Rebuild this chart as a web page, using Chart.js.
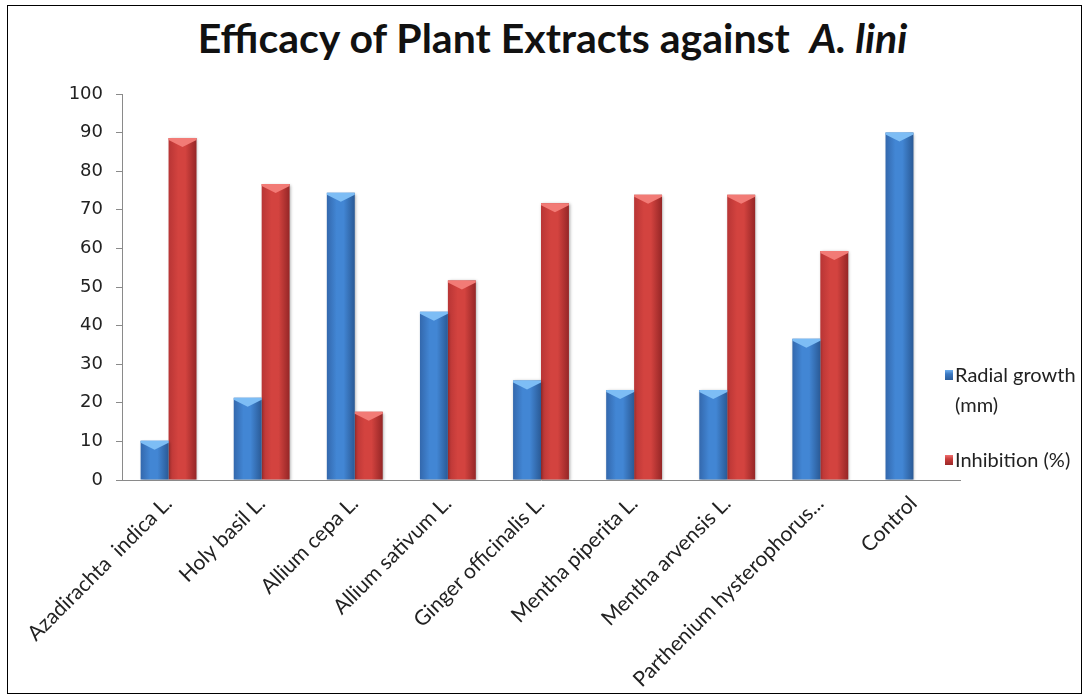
<!DOCTYPE html>
<html>
<head>
<meta charset="utf-8">
<script src="https://cdn.jsdelivr.net/npm/chart.js@4.4.1/dist/chart.umd.min.js"></script>
<style>
    html, body {
        margin: 0;
        padding: 0;
        background: #fff;
    }

    #marco {
        position: absolute;
        left: 7px;
        top: 5px;
        width: 1073px;
        height: 687px;
        border: 1px solid #000;
    }

    #titulo {
        position: absolute;
        left: 9px;
        top: 13px;
        width: 1087px;
        text-align: center;
        font: bold 41px Lato, "Open Sans", sans-serif;
        color: #111;
        white-space: pre;
    }

    #contenedor {
        position: absolute;
        left: 0;
        top: 0;
        width: 1087px;
        height: 697px;
    }

    #leyenda {
        position: absolute;
        left: 944px;
        top: 359px;
        font: 20px Lato, "Open Sans", sans-serif;
        color: #222;
        line-height: 30px;
    }

    .item {
        position: relative;
        padding-left: 11px;
    }

    .marca {
        position: absolute;
        left: 1px;
        top: 11px;
        width: 8px;
        height: 10px;
    }
</style>
</head>
<body>
<div id="marco"></div>
<div id="titulo">Efficacy of Plant Extracts against  <i>A. lini</i></div>
<div id="contenedor"><canvas id="grafico"></canvas></div>
<div id="leyenda">
    <div class="item"><span class="marca" style="background:linear-gradient(#6fb0f0,#3a78c2 40%,#2b5d9c)"></span>Radial growth<br>(mm)</div>
    <div class="item" style="margin-top:25px"><span class="marca" style="background:linear-gradient(#f07070,#c83c3a 40%,#9a2828)"></span>Inhibition (%)</div>
</div>
<script>
const categorias = [
    "Azadirachta  indica L.",
    "Holy basil L.",
    "Allium cepa L.",
    "Allium sativum L.",
    "Ginger officinalis L.",
    "Mentha piperita L.",
    "Mentha arvensis L.",
    "Parthenium hysterophorus...",
    "Control"
];

const crecimientoRadial = [10.2, 21.3, 74.4, 43.6, 25.8, 23.3, 23.3, 36.6, 90];
const inhibicion = [88.6, 76.7, 17.7, 51.7, 71.7, 73.9, 73.9, 59.3, null];

const ticksY = [0, 10, 20, 30, 40, 50, 60, 70, 80, 90, 100];

const PORCENTAJE_CATEGORIA = 0.6;

// Degradado horizontal por barra, como las columnas "cilíndricas" de Excel.
const rellenoBarra = (indiceSerie, colores) => context => {
    const chart = context.chart;
    const escalaX = chart.scales.x;

    if (!chart.chartArea || !escalaX) {
        return colores[1];
    }

    const anchoCategoria = escalaX.width / categorias.length;
    const anchoBarra = anchoCategoria * PORCENTAJE_CATEGORIA / 2;
    const centro = escalaX.getPixelForValue(context.dataIndex);
    const izquierda = centro - anchoBarra + indiceSerie * anchoBarra;

    const degradado = chart.ctx.createLinearGradient(izquierda, 0, izquierda + anchoBarra, 0);
    degradado.addColorStop(0, colores[0]);
    degradado.addColorStop(0.35, colores[1]);
    degradado.addColorStop(0.6, colores[1]);
    degradado.addColorStop(1, colores[2]);

    return degradado;
};

const coloresAzul = ["#3368ad", "#4286d4", "#2a5a96"];
const coloresRojo = ["#b83535", "#d3433f", "#952626"];
const tapas = ["#7dbdf5", "#f27b76"];

const sombraYTapas = {
    id: "sombraYTapas",

    beforeDatasetsDraw: chart => {
        const ctx = chart.ctx;

        ctx.save();
        ctx.shadowColor = "rgba(0, 0, 0, 0.35)";
        ctx.shadowBlur = 3;
        ctx.shadowOffsetX = 1;
        ctx.shadowOffsetY = 1;
    },

    afterDatasetsDraw: chart => {
        const ctx = chart.ctx;

        ctx.restore();

        chart.data.datasets.forEach((dataset, i) => {
            const meta = chart.getDatasetMeta(i);

            meta.data.forEach((barra, j) => {
                if (dataset.data[j] == null) {
                    return;
                }

                const { x, y, width } = barra.getProps(["x", "y", "width"], true);
                const mitad = width / 2;

                ctx.fillStyle = tapas[i];
                ctx.beginPath();
                ctx.moveTo(x - mitad, y);
                ctx.lineTo(x + mitad, y);
                ctx.lineTo(x + mitad, y + 2);
                ctx.lineTo(x, y + 9);
                ctx.lineTo(x - mitad, y + 2);
                ctx.closePath();
                ctx.fill();
            });
        });
    }
};

new Chart(document.getElementById("grafico"), {
    type: "bar",

    data: {
        labels: categorias,
        datasets: [
            {
                label: "Radial growth (mm)",
                data: crecimientoRadial,
                backgroundColor: rellenoBarra(0, coloresAzul),
                borderWidth: 0
            },
            {
                label: "Inhibition (%)",
                data: inhibicion,
                backgroundColor: rellenoBarra(1, coloresRojo),
                borderWidth: 0
            }
        ]
    },

    options: {
        responsive: true,
        maintainAspectRatio: false,
        animation: false,
        categoryPercentage: PORCENTAJE_CATEGORIA,
        barPercentage: 1,

        layout: {
            padding: {
                left: 20,
                right: 127,
                top: 94,
                bottom: 7
            }
        },

        plugins: {
            legend: {
                display: false
            },

            title: {
                display: false
            },

            tooltip: {
                enabled: false
            }
        },

        scales: {
            y: {
                min: 0,
                max: 100,
                afterBuildTicks: escala => {
                    escala.ticks = ticksY.map(valor => ({ value: valor }));
                },
                afterFit: escala => {
                    escala.width = 102;
                },

                ticks: {
                    color: "#222",
                    padding: 13,
                    font: {
                        family: "DejaVu Sans",
                        size: 18
                    }
                },

                grid: {
                    drawOnChartArea: false,
                    drawTicks: true,
                    tickLength: 6,
                    color: "#8a8a8a"
                },

                border: {
                    color: "#8a8a8a"
                }
            },

            x: {
                afterFit: escala => {
                    escala.height = 210;
                },

                ticks: {
                    color: "#222",
                    minRotation: 45,
                    maxRotation: 45,
                    autoSkip: false,
                    font: {
                        family: "Lato",
                        size: 21
                    }
                },

                grid: {
                    display: false
                },

                border: {
                    display: true,
                    color: "#8a8a8a"
                }
            }
        }
    },

    plugins: [sombraYTapas]
});
</script>
</body>
</html>
